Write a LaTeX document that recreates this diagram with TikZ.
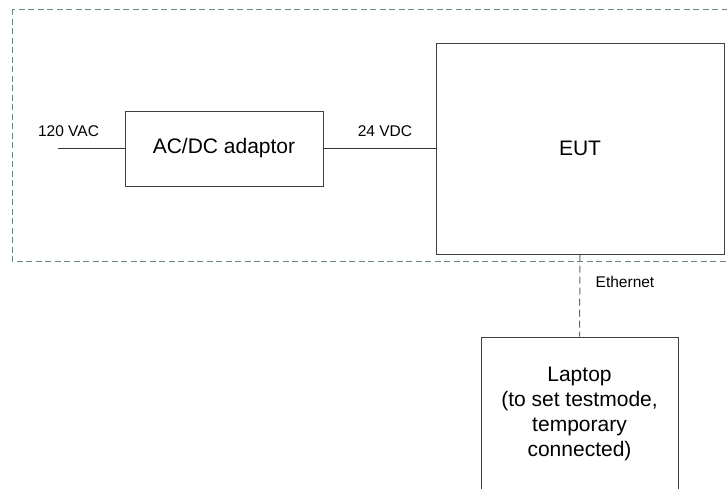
\documentclass[tikz,border=0pt]{standalone}
\usepackage{fontspec}
\setmainfont{Liberation Sans}
\usetikzlibrary{arrows.meta}
\definecolor{bordergreen}{RGB}{104,136,120}

\begin{document}
\begin{tikzpicture}[x=1pt, y=-1pt, block/.style = {draw=black!75, line width=1pt, inner sep=0pt, align=center, font=\fontsize{21}{25}\selectfont}, wire/.style = {draw=black!80, line width=1pt}, lbl/.style = {inner sep=0pt, font=\fontsize{15.5}{18}\selectfont}, enclosure/.style = {draw=bordergreen, line width=0.8pt, dash pattern=on 6pt off 3.5pt}]

    % frame
    \useasboundingbox (0,0) rectangle (727,488);
    \clip (0,0) rectangle (727,488);

    % test setup boundary
    \draw[enclosure] (12,9) rectangle (740,261);

    % blocks
    \node[block, minimum width=198pt, minimum height=75pt] (adaptor) at (224,148.5) {AC/DC adaptor};
    \node[block, minimum width=288pt, minimum height=211pt] (eut) at (580,148.5) {EUT};
    \node[block, minimum width=197pt, minimum height=154pt] (laptop) at (579.5,414) {Laptop\\(to set testmode,\\temporary\\connected)};

    % wires
    \coordinate (mains) at (58,148.5);
    \draw[wire] (mains) -- (adaptor.west);
    \draw[wire] (adaptor.east) -- (eut.west);
    \draw[wire, draw=black!60, dash pattern=on 7pt off 4pt] (eut.south) -- (laptop.north);

    % labels
    \node[lbl] (acin) at (68.5,131) {120 VAC};
    \node[lbl] (dcout) at (385,131) {24 VDC};
    \node[lbl] (eth) at (625,282) {Ethernet};

\end{tikzpicture}
\end{document}
